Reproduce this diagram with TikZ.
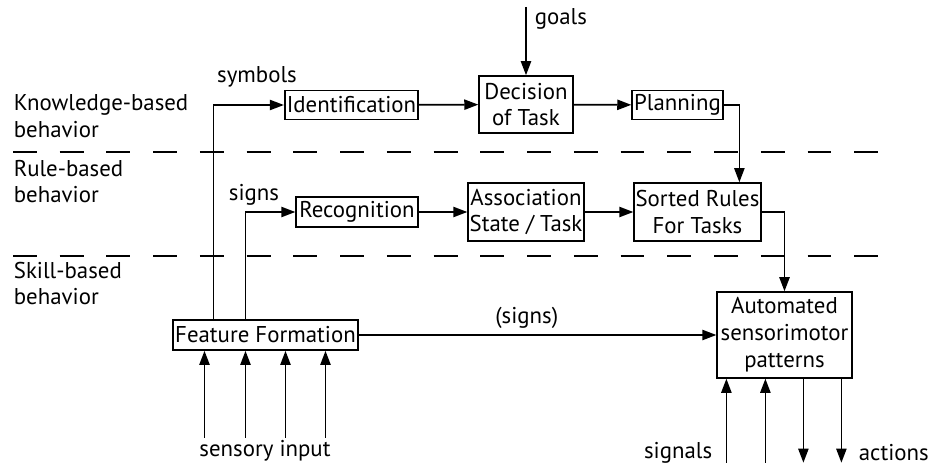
\documentclass[tikz,border=0pt]{standalone}
\usepackage{fontspec}
\setmainfont{PT Sans}
\usetikzlibrary{arrows.meta,calc}
\newcommand{\taskbox}[6][]{\node[draw,line width=1pt,inner sep=0pt,align=center,minimum width={#2*0.5669pt},minimum height={#3*0.5669pt},#1] at (#4) (#5) {#6}}

\begin{document}
\begin{tikzpicture}[x=0.02cm,y=-0.02cm,>={Triangle[length=8pt,width=5.8pt]},line width=1pt,
	font=\fontsize{13}{15.3}\selectfont]
				\useasboundingbox (0,0) rectangle (930,466);
				\draw[dash pattern=on 13.6pt off 13pt] (13,152) -- (883,152);
				\draw[dash pattern=on 13.6pt off 13pt] (13,256) -- (883,256);
				\node[anchor=west,align=left,inner sep=0pt] at (13,116.5) {Knowledge-based\\behavior};
				\node[anchor=west,align=left,inner sep=0pt] at (13,181.5) {Rule-based\\behavior};
				\node[anchor=west,align=left,inner sep=0pt] at (13,283.5) {Skill-based\\behavior};
				
				\taskbox{134}{29}{351.5,105}{ident}{Identification};
				\taskbox{94}{57}{526,104.5}{decision}{Decision\\of Task};
				\taskbox{91}{29}{677.5,105}{planning}{Planning};
				
				\taskbox{122}{30}{357,212}{recog}{Recognition};
				\taskbox{116}{58}{526,212}{assoc}{Association\\State / Task};
				\taskbox{127}{58}{697.5,212}{sorted}{Sorted Rules\\For Tasks};
				
				\taskbox{185}{30}{265.5,335}{feature}{Feature Formation};
				\taskbox{135}{86}{784.5,335}{auto}{Automated\\sensorimotor\\patterns};
				
				\coordinate (goalsin) at (526,7);
				\node[anchor=west,inner sep=0pt] at (534,19) {goals};
				\node at (257,77) {symbols};
				\node at (254,195) {signs};
				\node at (265,451) {sensory input};
				\node[anchor=east,inner sep=0pt] at (713,453) {signals};
				\node[anchor=west,inner sep=0pt] at (858,453) {actions};
				
				\draw [->] (goalsin) -- (decision.north);
				\draw [->] (ident) -- (decision);
				\draw [->] (decision) -- (planning);
				\draw [->] (recog) -- (assoc);
				\draw [->] (assoc) -- (sorted);
				\draw [->] (planning.east) -| ($(sorted.north west)+(106,0)$);
				\draw [->] (sorted.east) -| (auto.north);
				\draw [->] ($(feature.north west)+(41,0)$) |- (ident.west);
				\draw [->] ($(feature.north west)+(73,0)$) |- (recog.west);
				\draw [->] (feature) -- node [pos=0.47, above] {(signs)} (auto);
				
				\foreach \dx in {32,73,113,153}
					\draw [->] ($(feature.south west)+(\dx,87)$) -- ($(feature.south west)+(\dx,0)$);
				\foreach \dx in {10,49}
					\draw [->] ($(auto.south west)+(\dx,84)$) -- ($(auto.south west)+(\dx,0)$);
				\foreach \dx in {87,125}
					\draw [->] ($(auto.south west)+(\dx,0)$) -- ($(auto.south west)+(\dx,84)$);
				
				\end{tikzpicture}
\end{document}
